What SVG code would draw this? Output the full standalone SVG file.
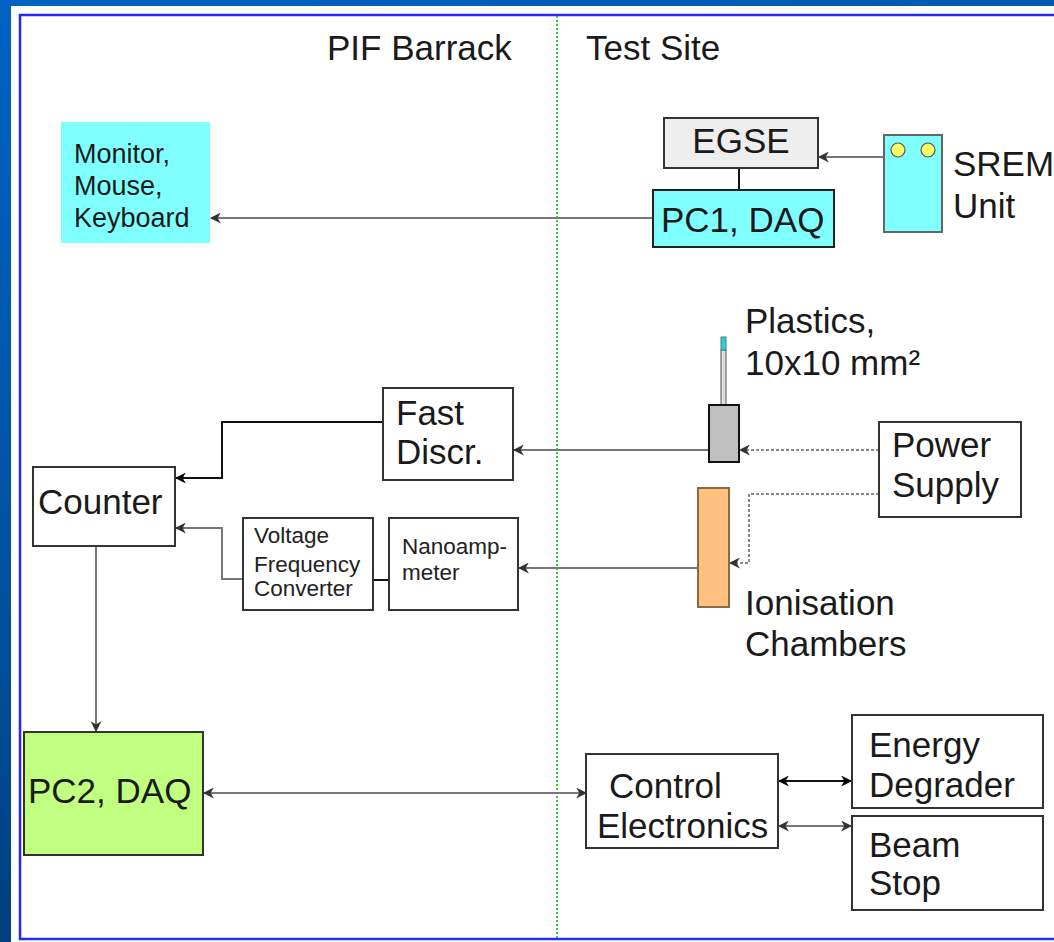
<svg xmlns="http://www.w3.org/2000/svg" width="1054" height="942" viewBox="0 0 1054 942">
  <defs>
    <linearGradient id="bg" x1="0" y1="0" x2="0.3" y2="1">
      <stop offset="0" stop-color="#0062c4"/>
      <stop offset="0.6" stop-color="#00509e"/>
      <stop offset="1" stop-color="#003a78"/>
    </linearGradient>
    <marker id="ag" viewBox="0 0 10 10" refX="9" refY="5" markerWidth="11" markerHeight="11" markerUnits="userSpaceOnUse" orient="auto-start-reverse">
      <path d="M0,0 L10,5 L0,10 L3,5 z" fill="#333"/>
    </marker>
    <marker id="ak" viewBox="0 0 10 10" refX="9" refY="5" markerWidth="11" markerHeight="11" markerUnits="userSpaceOnUse" orient="auto-start-reverse">
      <path d="M0,0 L10,5 L0,10 L3,5 z" fill="#000"/>
    </marker>
  </defs>
  <style>
    text { font-family: "Liberation Sans", Arial, sans-serif; fill: #1a1a1a; }
    .big { font-size: 35px; }
    .mid { font-size: 27px; }
    .sm { font-size: 22.5px; fill: #222; }
    .box { fill: #fff; stroke: #333; stroke-width: 2; }
    .g { fill: none; stroke: #777; stroke-width: 2; }
    .k { fill: none; stroke: #111; stroke-width: 2; }
    .d { fill: none; stroke: #888; stroke-width: 2; stroke-dasharray: 3 2; }
  </style>

  <!-- slide background -->
  <rect x="0" y="0" width="1054" height="942" fill="url(#bg)"/>
  <rect x="11" y="6" width="1043" height="936" fill="#ffffff"/>
  <rect x="20" y="15" width="1050" height="924" fill="none" stroke="#2626ff" stroke-width="2.5"/>
  <line x1="557" y1="16" x2="557" y2="938" stroke="#2ecc2e" stroke-width="2" stroke-dasharray="2 2"/>

  <g id="headers">
    <text class="big" x="327" y="60">PIF Barrack</text>
    <text class="big" x="586" y="60">Test Site</text>
  </g>

  <g id="connectors">
    <path class="g" d="M653,218 L211,218" marker-end="url(#ag)"/>
    <path class="g" d="M884,157 L819,157" marker-end="url(#ag)"/>
    <path class="k" d="M739,168 L739,190"/>
    <path class="g" d="M709,450 L514,450" marker-end="url(#ag)"/>
    <path class="d" d="M879,450 L740,450" marker-end="url(#ag)"/>
    <path class="d" d="M879,494 L749,494 L749,563 L730,563" marker-end="url(#ag)"/>
    <path class="g" d="M698,568 L519,568" marker-end="url(#ag)"/>
    <path class="k" d="M389,580 L373,580"/>
    <path class="g" d="M243,579 L222,579 L222,528 L176,528" marker-end="url(#ag)"/>
    <path class="k" d="M383,422 L222,422 L222,478 L176,478" marker-end="url(#ak)"/>
    <path class="g" d="M96,546 L96,731" marker-end="url(#ag)"/>
    <path class="g" d="M204,793 L586,793" marker-start="url(#ag)" marker-end="url(#ag)"/>
    <path class="k" d="M779,781 L851,781" marker-start="url(#ak)" marker-end="url(#ak)"/>
    <path class="g" d="M779,826 L851,826" marker-start="url(#ag)" marker-end="url(#ag)"/>
  </g>

  <g id="monitor">
    <rect x="61" y="122" width="149" height="121" fill="#80ffff"/>
    <text class="mid" x="74" y="163">Monitor,</text>
    <text class="mid" x="74" y="195">Mouse,</text>
    <text class="mid" x="74" y="227">Keyboard</text>
  </g>

  <g id="egse">
    <rect x="664" y="118" width="154" height="50" fill="#eeeeee" stroke="#333" stroke-width="2"/>
    <text class="big" x="741" y="153" text-anchor="middle">EGSE</text>
  </g>

  <g id="pc1">
    <rect x="653" y="190" width="181" height="57" fill="#80ffff" stroke="#222" stroke-width="2"/>
    <text class="big" x="661" y="232">PC1, DAQ</text>
  </g>

  <g id="srem">
    <rect x="884" y="135" width="58" height="97" fill="#80ffff" stroke="#666" stroke-width="2"/>
    <circle cx="898" cy="150" r="7" fill="#ffff66" stroke="#555" stroke-width="1.2"/>
    <circle cx="928" cy="150" r="7" fill="#ffff66" stroke="#555" stroke-width="1.2"/>
    <text class="big" x="953" y="176">SREM</text>
    <text class="big" x="953" y="218">Unit</text>
  </g>

  <g id="plastics">
    <rect x="721" y="350" width="5" height="55" fill="#dddddd" stroke="#555" stroke-width="1"/>
    <rect x="721" y="337" width="5" height="13" fill="#33cccc" stroke="#3a8a8a" stroke-width="1"/>
    <rect x="709" y="405" width="30" height="57" fill="#c0c0c0" stroke="#111" stroke-width="2"/>
    <text class="big" x="745" y="333">Plastics,</text>
    <text class="big" x="745" y="375">10x10 mm²</text>
  </g>

  <g id="power">
    <rect class="box" x="879" y="422" width="142" height="95"/>
    <text class="big" x="892" y="457">Power</text>
    <text class="big" x="892" y="497">Supply</text>
  </g>

  <g id="ionisation">
    <rect x="698" y="488" width="31" height="119" fill="#ffc080" stroke="#8a6a40" stroke-width="2"/>
    <text class="big" x="745" y="615">Ionisation</text>
    <text class="big" x="745" y="656">Chambers</text>
  </g>

  <g id="fastdiscr">
    <rect class="box" x="383" y="388" width="130" height="92"/>
    <text class="big" x="396" y="425">Fast</text>
    <text class="big" x="396" y="464">Discr.</text>
  </g>

  <g id="counter">
    <rect class="box" x="33" y="467" width="142" height="79"/>
    <text class="big" x="38" y="514">Counter</text>
  </g>

  <g id="vfc">
    <rect class="box" x="243" y="518" width="130" height="92" stroke="#555"/>
    <text class="sm" x="254" y="543">Voltage</text>
    <text class="sm" x="254" y="572">Frequency</text>
    <text class="sm" x="254" y="596">Converter</text>
  </g>

  <g id="nanoamp">
    <rect class="box" x="389" y="518" width="129" height="92"/>
    <text class="sm" x="402" y="554">Nanoamp-</text>
    <text class="sm" x="402" y="580">meter</text>
  </g>

  <g id="pc2">
    <rect x="24" y="732" width="179" height="123" fill="#c0ff80" stroke="#333" stroke-width="2"/>
    <text class="big" x="28" y="803">PC2, DAQ</text>
  </g>

  <g id="control">
    <rect class="box" x="586" y="754" width="192" height="94" stroke="#555"/>
    <text class="big" x="609" y="798">Control</text>
    <text class="big" x="597" y="838">Electronics</text>
  </g>

  <g id="degrader">
    <rect class="box" x="852" y="715" width="191" height="93"/>
    <text class="big" x="869" y="757">Energy</text>
    <text class="big" x="869" y="797">Degrader</text>
  </g>

  <g id="beamstop">
    <rect class="box" x="852" y="816" width="191" height="94"/>
    <text class="big" x="869" y="857">Beam</text>
    <text class="big" x="869" y="895">Stop</text>
  </g>
</svg>
